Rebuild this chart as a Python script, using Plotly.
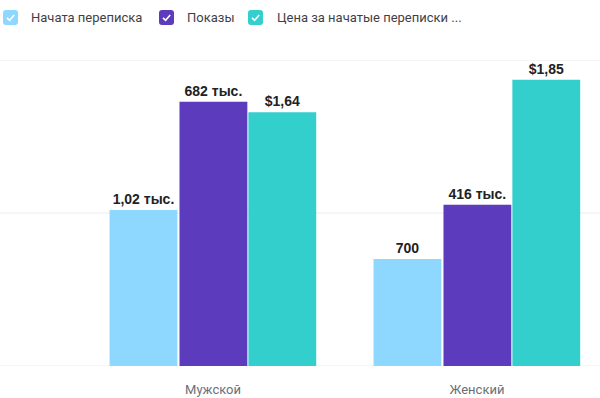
import plotly.graph_objects as go

categories = ["Мужской", "Женский"]
series_names = ["Начата переписка", "Показы", "Цена за начатые переписки ..."]
started = [1020, 700]
impressions = [682000, 416000]
cost = [1.64, 1.85]
started_labels = ["1,02 тыс.", "700"]
impressions_labels = ["682 тыс.", "416 тыс."]
cost_labels = ["$1,64", "$1,85"]
colors = ["#8ED8FF", "#5C3BBC", "#33CFCD"]
grid_values = [0, 1000, 2000]

W, H = 600, 398
T, B = 60, 32

fig = go.Figure()
label_font = dict(family="Liberation Sans, Arial, sans-serif", size=14, color="#222222")
width = 0.257
offsets = [-0.392, -0.127, 0.134]
specs = [
    (started, started_labels, "y"),
    (impressions, impressions_labels, "y2"),
    (cost, cost_labels, "y3"),
]

# gridlines (drawn as shapes so the edge lines show too)
for g in grid_values:
    fig.add_shape(type="line", xref="paper", yref="y", x0=0, x1=1, y0=g, y1=g,
                  line=dict(color="#ececec", width=1), layer="below")

for i, (vals, labels, ax) in enumerate(specs):
    fig.add_trace(go.Bar(
        x=categories, y=vals, name=series_names[i], yaxis=ax,
        marker=dict(color=colors[i], line=dict(width=0)),
        width=width, offset=offsets[i],
        text=["<b>%s</b>" % t for t in labels], textposition="outside",
        textfont=label_font, cliponaxis=False, showlegend=False,
        hoverinfo="skip",
    ))

fig.update_layout(
    width=W, height=H,
    margin=dict(l=0, r=0, t=T, b=B),
    plot_bgcolor="white", paper_bgcolor="white",
    barmode="overlay",
    font=dict(family="Roboto, sans-serif"),
    xaxis=dict(type="category", range=[-0.807, 1.466], showgrid=False, zeroline=False,
               showline=False, ticks="", tickfont=dict(size=13, color="#6b6f7a"),
               ticklabelstandoff=14, automargin=False),
    yaxis=dict(range=[0, 2000], showgrid=False,
               zeroline=False, showticklabels=False, ticks="", automargin=False),
    yaxis2=dict(range=[0, 790000], overlaying="y", showgrid=False, zeroline=False,
                showticklabels=False, ticks="", automargin=False),
    yaxis3=dict(range=[0, 1.978], overlaying="y", showgrid=False, zeroline=False,
                showticklabels=False, ticks="", automargin=False),
)

# custom checkbox-style legend
def py(pix):
    return (H - B - pix) / (H - T - B)

def px(pix):
    return pix / W

icon_x = [3, 159, 248]
text_x = [31, 187, 277]
for i in range(3):
    x0, x1 = icon_x[i], icon_x[i] + 15
    y0, y1 = 10, 25
    r = 3
    pts = [("M", x0 + r, y0), ("L", x1 - r, y0), ("Q", x1, y0, x1, y0 + r), ("L", x1, y1 - r),
           ("Q", x1, y1, x1 - r, y1), ("L", x0 + r, y1), ("Q", x0, y1, x0, y1 - r),
           ("L", x0, y0 + r), ("Q", x0, y0, x0 + r, y0)]
    parts = []
    for p in pts:
        cmd = p[0]
        coords = p[1:]
        cs = " ".join(f"{px(coords[j])},{py(coords[j+1])}" for j in range(0, len(coords), 2))
        parts.append(f"{cmd} {cs}")
    path = " ".join(parts) + " Z"
    fig.add_shape(type="path", xref="paper", yref="paper", path=path,
                  fillcolor=colors[i], line=dict(width=0))
    chk = (f"M {px(x0+4)},{py(y0+7.8)} L {px(x0+6.6)},{py(y0+10.3)} "
           f"L {px(x0+11.2)},{py(y0+5)}")
    fig.add_shape(type="path", xref="paper", yref="paper", path=chk,
                  line=dict(color="white", width=1.6))
    fig.add_annotation(x=px(text_x[i]), y=py(17.5), xref="paper", yref="paper",
                       text=series_names[i], showarrow=False,
                       font=dict(size=13, color="#3f3f46", family="Roboto, sans-serif"),
                       xanchor="left", yanchor="middle", xshift=-2)

fig.write_html("out.html", config={"displayModeBar": False},
               post_script="document.body.style.margin='0';document.body.style.overflow='hidden';")
